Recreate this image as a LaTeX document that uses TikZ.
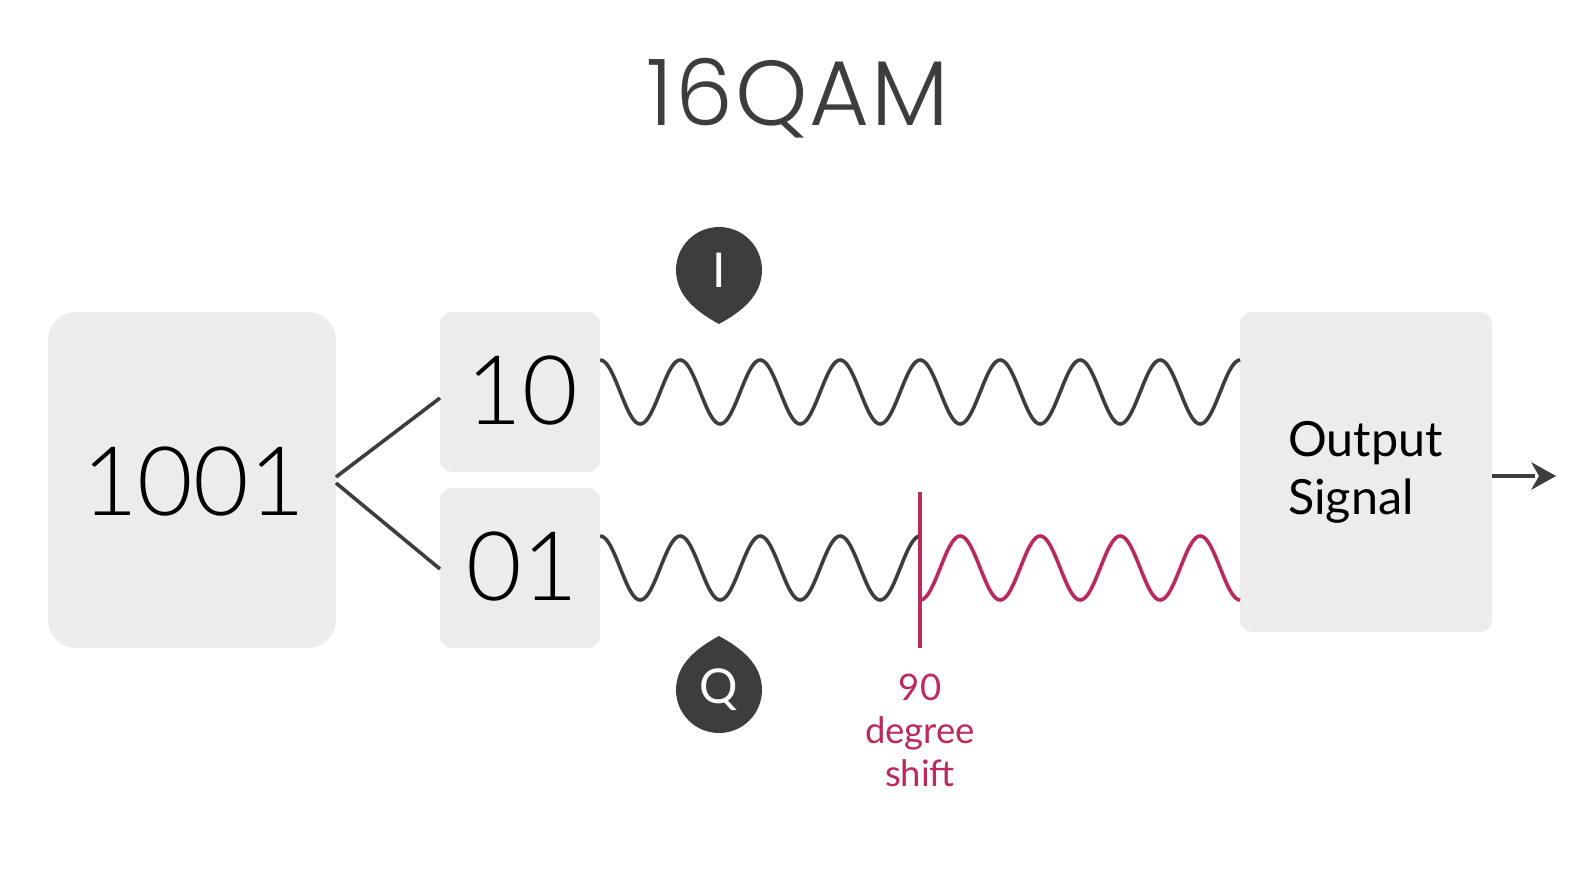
\documentclass[tikz,border=0pt]{standalone}
\usepackage{fontspec}
\setmainfont{Lato}
\newfontfamily\lightfont{Lato Light}
\newfontfamily\titlefont[LetterSpace=2.2]{Poppins Light}
\definecolor{boxgrey}{HTML}{ECECEC}
\definecolor{dark}{HTML}{3D3D3D}
\definecolor{shiftred}{HTML}{BC2A5C}
\tikzset{
  block/.style={fill=boxgrey,rounded corners=#1,inner sep=0pt,text=black},
  digits/.style={text=black,inner sep=0pt,font=\lightfont\fontsize{96}{96}\selectfont},
  link/.style={draw=dark,line width=3.6pt},
  wave/.style={line width=3.6pt},
  drop/.style={fill=dark},
  droptext/.style={text=white,inner sep=0pt,font=\fontsize{48}{48}\selectfont},
}
\begin{document}
\begin{tikzpicture}[x=1pt,y=-1pt]
\useasboundingbox (0,0) rectangle (1584,880);
\node[text=dark,inner sep=0pt,font=\titlefont\fontsize{92}{92}\selectfont] (title) at (798,98) {16QAM};
\node[block=28pt,minimum width=288pt,minimum height=336pt] (big) at (192,480) {};
\node[block=12pt,minimum width=160pt,minimum height=160pt] (ten) at (520,392) {};
\node[block=12pt,minimum width=160pt,minimum height=160pt] (zo) at (520,568) {};
\node[digits] (bigtext) at (193.5,482) {1001};
\node[digits] (tentext) at (522,391) {10};
\node[digits] (zotext) at (522,567) {01};
\node[block=12pt,minimum width=252pt,minimum height=320pt,text width=156pt,align=left,font=\fontsize{48.5}{58}\selectfont] (out) at (1366,472) {Output\\Signal};
\coordinate (bigup) at (336,477);
\coordinate (biglow) at (336,483);
\coordinate (tenin) at (440,398);
\coordinate (zoin) at (440,569);
\coordinate (outp) at (1492,476);
\coordinate (arrowend) at (1556,476);
\draw[link] (bigup) -- (tenin);
\draw[link] (biglow) -- (zoin);
\draw[wave,dark,shift={(ten.east)}] plot[domain=0:640,samples=321,smooth] (\x,{-32*cos(\x*4.5)});
\draw[wave,dark,shift={(zo.east)}] plot[domain=0:320,samples=161,smooth] (\x,{-32*cos(\x*4.5)});
\draw[wave,shiftred,shift={(zo.east)}] plot[domain=320:640,samples=161,smooth] (\x,{32*cos(\x*4.5)});
\coordinate (shifttop) at (920,492);
\coordinate (shiftbot) at (920,648);
\draw[shiftred,line width=4pt] (shifttop) -- (shiftbot);
\node[text=shiftred,inner sep=0pt,align=center,font=\fontsize{36.5}{43}\selectfont] (shiftlabel) at (920,730.5) {90\\degree\\shift};
\draw[link] (outp) -- (1535,476);
\fill[dark] (arrowend) -- (1531,462) -- (1539,476) -- (1531,490) -- cycle;
\fill[drop] (676,270) arc[start angle=180,end angle=0,radius=43pt]
  .. controls (762,296) and (741,312) .. (719,324)
  .. controls (697,312) and (676,296) .. (676,270) -- cycle;
\node[droptext] (i) at (719,270) {I};
\fill[drop] (676,690) arc[start angle=180,end angle=360,radius=43pt]
  .. controls (762,664) and (741,648) .. (719,636)
  .. controls (697,648) and (676,664) .. (676,690) -- cycle;
\node[droptext] (q) at (719,690) {Q};
\end{tikzpicture}
\end{document}
